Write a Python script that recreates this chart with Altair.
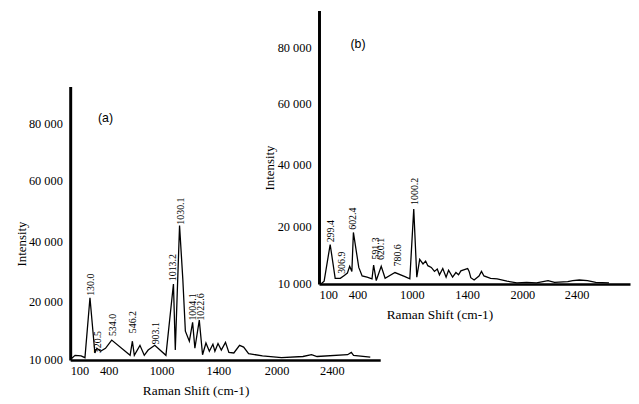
import altair as alt
import pandas as pd

# ---------------- Panel (a) spectrum ----------------
a_shift = [108, 138, 185, 215, 254, 292, 308, 336, 375, 434, 643, 669, 691, 755, 804,
           848, 923, 1031, 1084, 1097, 1127, 1150, 1168, 1196, 1219, 1235, 1266, 1289,
           1313, 1337, 1362, 1376, 1398, 1431, 1474, 1509, 1560, 1619, 1661, 1712, 1855,
           2036, 2191, 2253, 2293, 2514, 2541, 2557, 2678]
a_int = [10200, 10800, 10700, 10400, 21200, 11200, 12000, 11500, 12000, 13400, 10800,
         13200, 10800, 12500, 10800, 11700, 12500, 10800, 25800, 11700, 45200, 27400,
         14900, 13200, 16400, 12000, 16800, 10900, 12900, 11500, 12700, 11500, 12800,
         11700, 13000, 11300, 11200, 12500, 12200, 11100, 10700, 10400, 10600, 10900,
         10600, 10900, 11300, 10800, 10500]

a_peak_text = ["130.0", "320.5", "534.0", "546.2", "903.1", "1013.2", "1030.1", "1004.1", "1022.6"]
a_peak_x = [259, 319, 445, 680, 935, 1080, 1134, 1222, 1278]
a_peak_y = [21500, 11000, 13900, 14400, 12500, 26400, 45200, 16550, 16550]

# ---------------- Panel (b) spectrum ----------------
b_shift = [115, 140, 187, 226, 266, 297, 321, 339, 356, 368, 414, 451, 506, 560, 578,
           607, 662, 705, 814, 924, 978, 1014, 1036, 1057, 1081, 1100, 1116, 1141, 1164,
           1184, 1200, 1224, 1248, 1266, 1295, 1319, 1338, 1355, 1391, 1406, 1422, 1440,
           1476, 1529, 1556, 1583, 1655, 1726, 1833, 1940, 2031, 2104, 2189, 2237, 2334,
           2371, 2420, 2481, 2543, 2642]
b_int = [10000, 10500, 16900, 11000, 11000, 11500, 11900, 13100, 12200, 19000, 12900,
         11400, 11200, 10900, 13300, 10600, 13100, 11000, 12000, 11300, 10900, 25700,
         11200, 14300, 13500, 14000, 13200, 12900, 12200, 12600, 11600, 12700, 11200,
         12400, 11200, 12000, 11600, 12300, 12600, 12700, 12200, 11100, 10700, 11400,
         12200, 11400, 11000, 10900, 10500, 10200, 10300, 10200, 10600, 10300, 10400,
         10600, 10700, 10600, 10300, 10200]

b_peak_text = ["299.4", "306.9", "602.4", "591.3", "620.1", "780.6", "1000.2"]
b_peak_x = [195, 281, 364, 607, 662, 844, 1025]
b_peak_y = [17100, 11600, 19300, 14100, 14000, 12900, 26700]

# axis tick values
x_ticks = [100, 400, 1000, 1400, 2000, 2400]
y_ticks = [10000, 20000, 40000, 60000, 80000]

# panel tags
a_tag = {"x": [375], "y": [81550], "label": ["(a)"]}
b_tag = {"x": [405], "y": [81250], "label": ["(b)"]}

SERIF = "Liberation Serif, Times New Roman, DejaVu Serif, serif"
SANS = "Liberation Sans, Arial, sans-serif"
W, H = 631, 396

df_a = pd.DataFrame({"x": a_shift, "y": a_int})
df_b = pd.DataFrame({"x": b_shift, "y": b_int})
pk_a = pd.DataFrame({"x": a_peak_x, "y": a_peak_y, "label": a_peak_text})
pk_b = pd.DataFrame({"x": b_peak_x, "y": b_peak_y, "label": b_peak_text})
tg_a = pd.DataFrame(a_tag)
tg_b = pd.DataFrame(b_tag)

ylab = "replace(format(datum.value, ','), ',', ' ')"
xlab = "format(datum.value, 'd')"


def make_panel(df, pk, tg, xdom, xrange, ydom, yrange, xoff, yoff, xtitle_x, ytitle_x, ytitle_y):
    xs = alt.Scale(domain=xdom, range=xrange, nice=False, zero=False)
    ys = alt.Scale(domain=ydom, range=yrange, nice=False, zero=False)
    xax = alt.Axis(orient="bottom", offset=xoff, values=x_ticks, ticks=False, grid=False,
                   domainColor="black", domainWidth=2.5, labelFont=SERIF, labelFontSize=12.5,
                   labelColor="black", labelPadding=5, labelExpr=xlab,
                   title="Raman Shift (cm-1)",
                   titleFont=SERIF, titleFontSize=13.5, titleFontWeight="normal",
                   titleColor="black", titleX=xtitle_x, titleY=31, titleBaseline="middle")
    yax = alt.Axis(orient="left", offset=yoff, values=y_ticks, ticks=False, grid=False,
                   domainColor="black", domainWidth=3, labelFont=SERIF, labelFontSize=12.5,
                   labelColor="black", labelPadding=8, labelExpr=ylab, title="Intensity",
                   titleFont=SERIF, titleFontSize=13, titleFontWeight="normal",
                   titleColor="black", titleX=ytitle_x, titleY=ytitle_y,
                   titleBaseline="middle", titleAngle=270)
    X = alt.X("x:Q", scale=xs, axis=xax)
    Y = alt.Y("y:Q", scale=ys, axis=yax)
    line = alt.Chart(df).mark_line(color="black", strokeWidth=1.3).encode(x=X, y=Y)
    peaks = alt.Chart(pk).mark_text(angle=270, align="left", baseline="middle",
                                    font=SERIF, fontSize=10, color="black", dx=1).encode(
        x=X, y=Y, text="label:N")
    tag = alt.Chart(tg).mark_text(align="center", baseline="middle", font=SANS,
                                  fontSize=12.5, color="black").encode(x=X, y=Y, text="label:N")
    return alt.layer(line, peaks, tag)


panel_a = make_panel(df_a, pk_a, tg_a,
                     [100, 400, 1000, 1400, 2000, 2400, 2750],
                     [63, 102, 155.5, 213, 272, 328, 377],
                     [10000, 20000, 40000, 60000, 80000, 92000],
                     [354, 294.5, 234, 172, 114, 77],
                     354 - H, -63, 190, -49, 236)

panel_b = make_panel(df_b, pk_b, tg_b,
                     [100, 400, 1000, 1400, 2000, 2400, 2800],
                     [315, 354, 409, 465, 521, 576, 630],
                     [10000, 20000, 40000, 60000, 80000, 93000],
                     [277, 219, 156, 94, 38, 0],
                     277 - H, -315, 437, -50, 159)

chart = alt.layer(panel_a, panel_b).resolve_scale(
    x="independent", y="independent").resolve_axis(
    x="independent", y="independent").properties(
    width=W, height=H, padding=0,
    autosize=alt.AutoSizeParams(type="none"),
    background="white").configure_view(stroke=None)

chart.save("out.html", embed_options={"renderer": "svg", "actions": False})
